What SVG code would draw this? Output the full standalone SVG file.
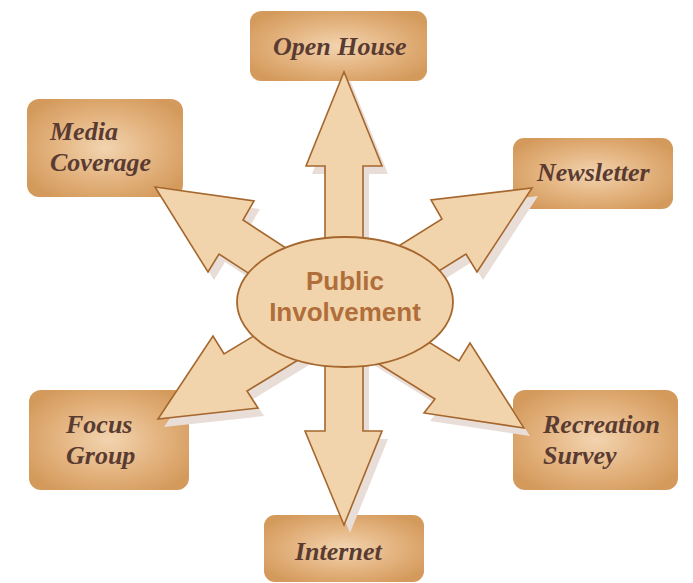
<svg xmlns="http://www.w3.org/2000/svg" width="693" height="583" viewBox="0 0 693 583">
  <defs>
    <radialGradient id="boxFill" cx="0.5" cy="0.5" r="0.6">
      <stop offset="0" stop-color="#f2d4b0"/>
      <stop offset="0.5" stop-color="#e5b683"/>
      <stop offset="1" stop-color="#d49a5c"/>
    </radialGradient>
  </defs>
  <style>
    .box { fill: url(#boxFill); }
    .label { font-family: "Liberation Serif", "Times New Roman", serif; font-weight: bold; font-style: italic; font-size: 26px; fill: #5a3b32; }
    .shadow { fill: #e8ddd7; stroke: none; }
    .arrow { fill: #f2d4ac; stroke: #a5672d; stroke-width: 1.6; stroke-linejoin: miter; }
    .hub { fill: #f2d4ac; stroke: #a5672d; stroke-width: 1.8; }
    .hubtext { font-family: "Liberation Sans", Arial, sans-serif; font-weight: bold; font-size: 26px; fill: #b06e3a; text-anchor: middle; }
  </style>

  <!-- topic boxes -->
  <g id="open-house">
    <rect class="box" x="250" y="11" width="177" height="70" rx="11"/>
    <text class="label" x="273" y="55">Open House</text>
  </g>
  <g id="media-coverage">
    <rect class="box" x="27" y="99" width="156" height="98" rx="12"/>
    <text class="label" x="50" y="140">Media</text>
    <text class="label" x="50" y="171">Coverage</text>
  </g>
  <g id="newsletter">
    <rect class="box" x="513" y="138" width="160" height="71" rx="11"/>
    <text class="label" x="537" y="181">Newsletter</text>
  </g>
  <g id="recreation-survey">
    <rect class="box" x="513" y="390" width="165" height="100" rx="12"/>
    <text class="label" x="543" y="433">Recreation</text>
    <text class="label" x="543" y="464">Survey</text>
  </g>
  <g id="focus-group">
    <rect class="box" x="29" y="390" width="160" height="100" rx="12"/>
    <text class="label" x="66" y="433">Focus</text>
    <text class="label" x="66" y="464">Group</text>
  </g>
  <g id="internet">
    <rect class="box" x="264" y="515" width="160" height="67" rx="11"/>
    <text class="label" x="295" y="560">Internet</text>
  </g>

  <!-- block arrows radiating from the hub -->
  <g id="connectors">
    <g transform="translate(6,8)">
      <polygon class="shadow" points="325,300 325,166 306,166 344,72 382,166 363,166 363,300"/>
      <polygon class="shadow" points="325,300 325,431 305,431 344,525 382,431 363,431 363,300"/>
      <polygon class="shadow" points="335,280 243,220 254,201 155,187 208,272 219,254 311,314"/>
      <polygon class="shadow" points="349,277 442,219 431,200 532,188 477,272 466,254 373,312"/>
      <polygon class="shadow" points="366,303 459,361 470,343 524,428 424,413 435,399 342,341"/>
      <polygon class="shadow" points="318,297 224,354 213,336 158,419 258,408 247,391 341,334"/>
    </g>
    <polygon class="arrow" points="325,300 325,166 306,166 344,72 382,166 363,166 363,300"/>
    <polygon class="arrow" points="325,300 325,431 305,431 344,525 382,431 363,431 363,300"/>
    <polygon class="arrow" points="335,280 243,220 254,201 155,187 208,272 219,254 311,314"/>
    <polygon class="arrow" points="349,277 442,219 431,200 532,188 477,272 466,254 373,312"/>
    <polygon class="arrow" points="366,303 459,361 470,343 524,428 424,413 435,399 342,341"/>
    <polygon class="arrow" points="318,297 224,354 213,336 158,419 258,408 247,391 341,334"/>
  </g>

  <!-- central hub -->
  <g id="public-involvement">
    <ellipse class="hub" cx="345" cy="302" rx="108" ry="65"/>
    <text class="hubtext" x="345" y="290">Public</text>
    <text class="hubtext" x="345" y="321">Involvement</text>
  </g>
</svg>
